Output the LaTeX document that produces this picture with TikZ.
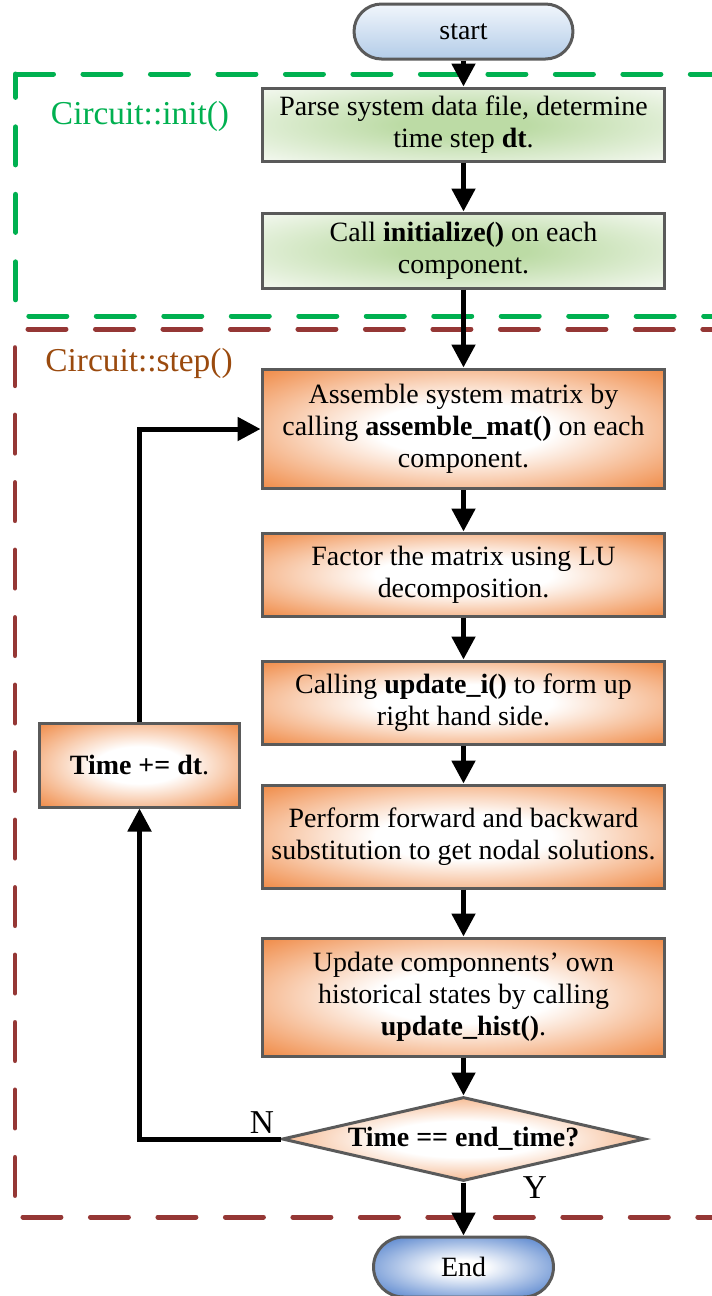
\documentclass[tikz,border=0pt]{standalone}
\usepackage{fontspec}
\setmainfont{Liberation Serif}
\usetikzlibrary{arrows.meta,shapes.geometric}

% colours
\definecolor{boxline}{HTML}{5A5A5A}
\definecolor{orng}{HTML}{EE7E33}
\definecolor{grnin}{HTML}{BCDBA5}
\definecolor{grnout}{HTML}{F3F8EF}
\definecolor{blueedge}{HTML}{4E7ECB}
\definecolor{starttop}{HTML}{F1F6FC}
\definecolor{startbot}{HTML}{B3CCE8}
\definecolor{initgreen}{HTML}{00B050}
\definecolor{stepbrown}{HTML}{953735}
\definecolor{steptext}{HTML}{9A4A0E}

% glow fills: light or saturated centre fading towards the corners
\pgfdeclareradialshading{orangeglow}{\pgfpointorigin}{color(0bp)=(white); color(11bp)=(white); color(38bp)=(orng); color(50bp)=(orng)}
\pgfdeclareradialshading{greenglow}{\pgfpointorigin}{color(0bp)=(grnin); color(8bp)=(grnin); color(35bp)=(grnout); color(50bp)=(grnout)}
\pgfdeclareradialshading{blueglow}{\pgfpointorigin}{color(0bp)=(white); color(6bp)=(white); color(34bp)=(blueedge); color(50bp)=(blueedge)}

\newcommand\boxfont{\fontsize{15.9pt}{18.3pt}\selectfont}
\newcommand\regionfont{\fontsize{19pt}{22pt}\selectfont}

\begin{document}
\begin{tikzpicture}[x=0.02cm,y=-0.02cm,
  procbox/.style={draw=boxline, line width=0.6mm, shade, shading=orangeglow,
    minimum width=80.6mm, inner sep=0pt, align=center, font=\boxfont},
  initbox/.style={procbox, shading=greenglow},
  decision/.style={diamond, draw=boxline, line width=0.6mm, shade, shading=orangeglow,
    aspect=4.32, minimum width=72.6mm, minimum height=16.8mm, inner sep=0pt,
    font=\boxfont\bfseries},
  terminal/.style={draw=boxline, line width=0.6mm, inner sep=0pt, font=\boxfont},
  flow/.style={line width=1mm, -{Triangle[length=4.6mm,width=4.6mm]}},
  region/.style={line width=1mm, line cap=round, dash pattern=on 7.6mm off 5.9mm},
  regionlabel/.style={font=\regionfont, inner sep=0pt},
  branch/.style={font=\regionfont, inner sep=0pt}]

\useasboundingbox (0,0) rectangle (712,1296);

% dashed frames of the two routines
\draw[region, initgreen] (15.5,74) -- (730,74) -- (730,316) -- (15.5,316) -- cycle;
\draw[region, stepbrown, dash phase=10.9mm] (15,329) -- (714,329) -- (714,1217) -- (15,1217) -- cycle;

\node[regionlabel, text=initgreen] (initlbl) at (140,116) {Circuit::init()};
\node[regionlabel, text=steptext] (steplbl) at (139,363) {Circuit::step()};

% terminals
\node[terminal, top color=starttop, bottom color=startbot,
  minimum width=43.8mm, minimum height=11mm, rounded corners=5.5mm] (start) at (463.5,31.5) {start};
\node[terminal, shade, shading=blueglow,
  minimum width=36mm, minimum height=12mm, rounded corners=6mm] (end) at (463.5,1267) {End};

% initialisation
\node[initbox, minimum height=14.6mm] (parse) at (463.5,124.5)
  {Parse system data file, determine\\time step \textbf{dt}.};
\node[initbox, minimum height=15mm] (initc) at (463.5,250.5)
  {Call \textbf{initialize()} on each\\component.};

% time step loop
\node[procbox, minimum height=24mm] (assemble) at (463.5,429)
  {Assemble system matrix by\\calling \textbf{assemble\_mat()} on each\\component.};
\node[procbox, minimum height=16.6mm] (factor) at (463.5,574.5)
  {Factor the matrix using LU\\decomposition.};
\node[procbox, minimum height=16.6mm] (rhs) at (463.5,702.5)
  {Calling \textbf{update\_i()} to form up\\right hand side.};
\node[procbox, minimum height=20.6mm] (solve) at (463.5,836.5)
  {Perform forward and backward\\substitution to get nodal solutions.};
\node[procbox, minimum height=23.6mm] (hist) at (463.5,997)
  {Update componnents' own\\historical states by calling\\\textbf{update\_hist()}.};
\node[decision] (check) at (463.5,1139) {Time == end\_time?};
\node[procbox, minimum width=40.2mm, minimum height=16.8mm] (advance) at (139.5,765)
  {\textbf{Time += dt}.};

\node[branch] (nlbl) at (262,1123) {N};
\node[branch] (ylbl) at (535,1188) {Y};

% connectors
\draw[flow] (start.south) -- (parse.north);
\draw[flow] (parse.south) -- (initc.north);
\draw[flow] (initc.south) -- (assemble.north);
\draw[flow] (assemble.south) -- (factor.north);
\draw[flow] (factor.south) -- (rhs.north);
\draw[flow] (rhs.south) -- (solve.north);
\draw[flow] (solve.south) -- (hist.north);
\draw[flow] (hist.south) -- (check.north);
\draw[flow] (check.south) -- (end.north);
\draw[flow] (check.west) -| (advance.south);
\draw[flow] (advance.north) |- (assemble.west);

\end{tikzpicture}
\end{document}
